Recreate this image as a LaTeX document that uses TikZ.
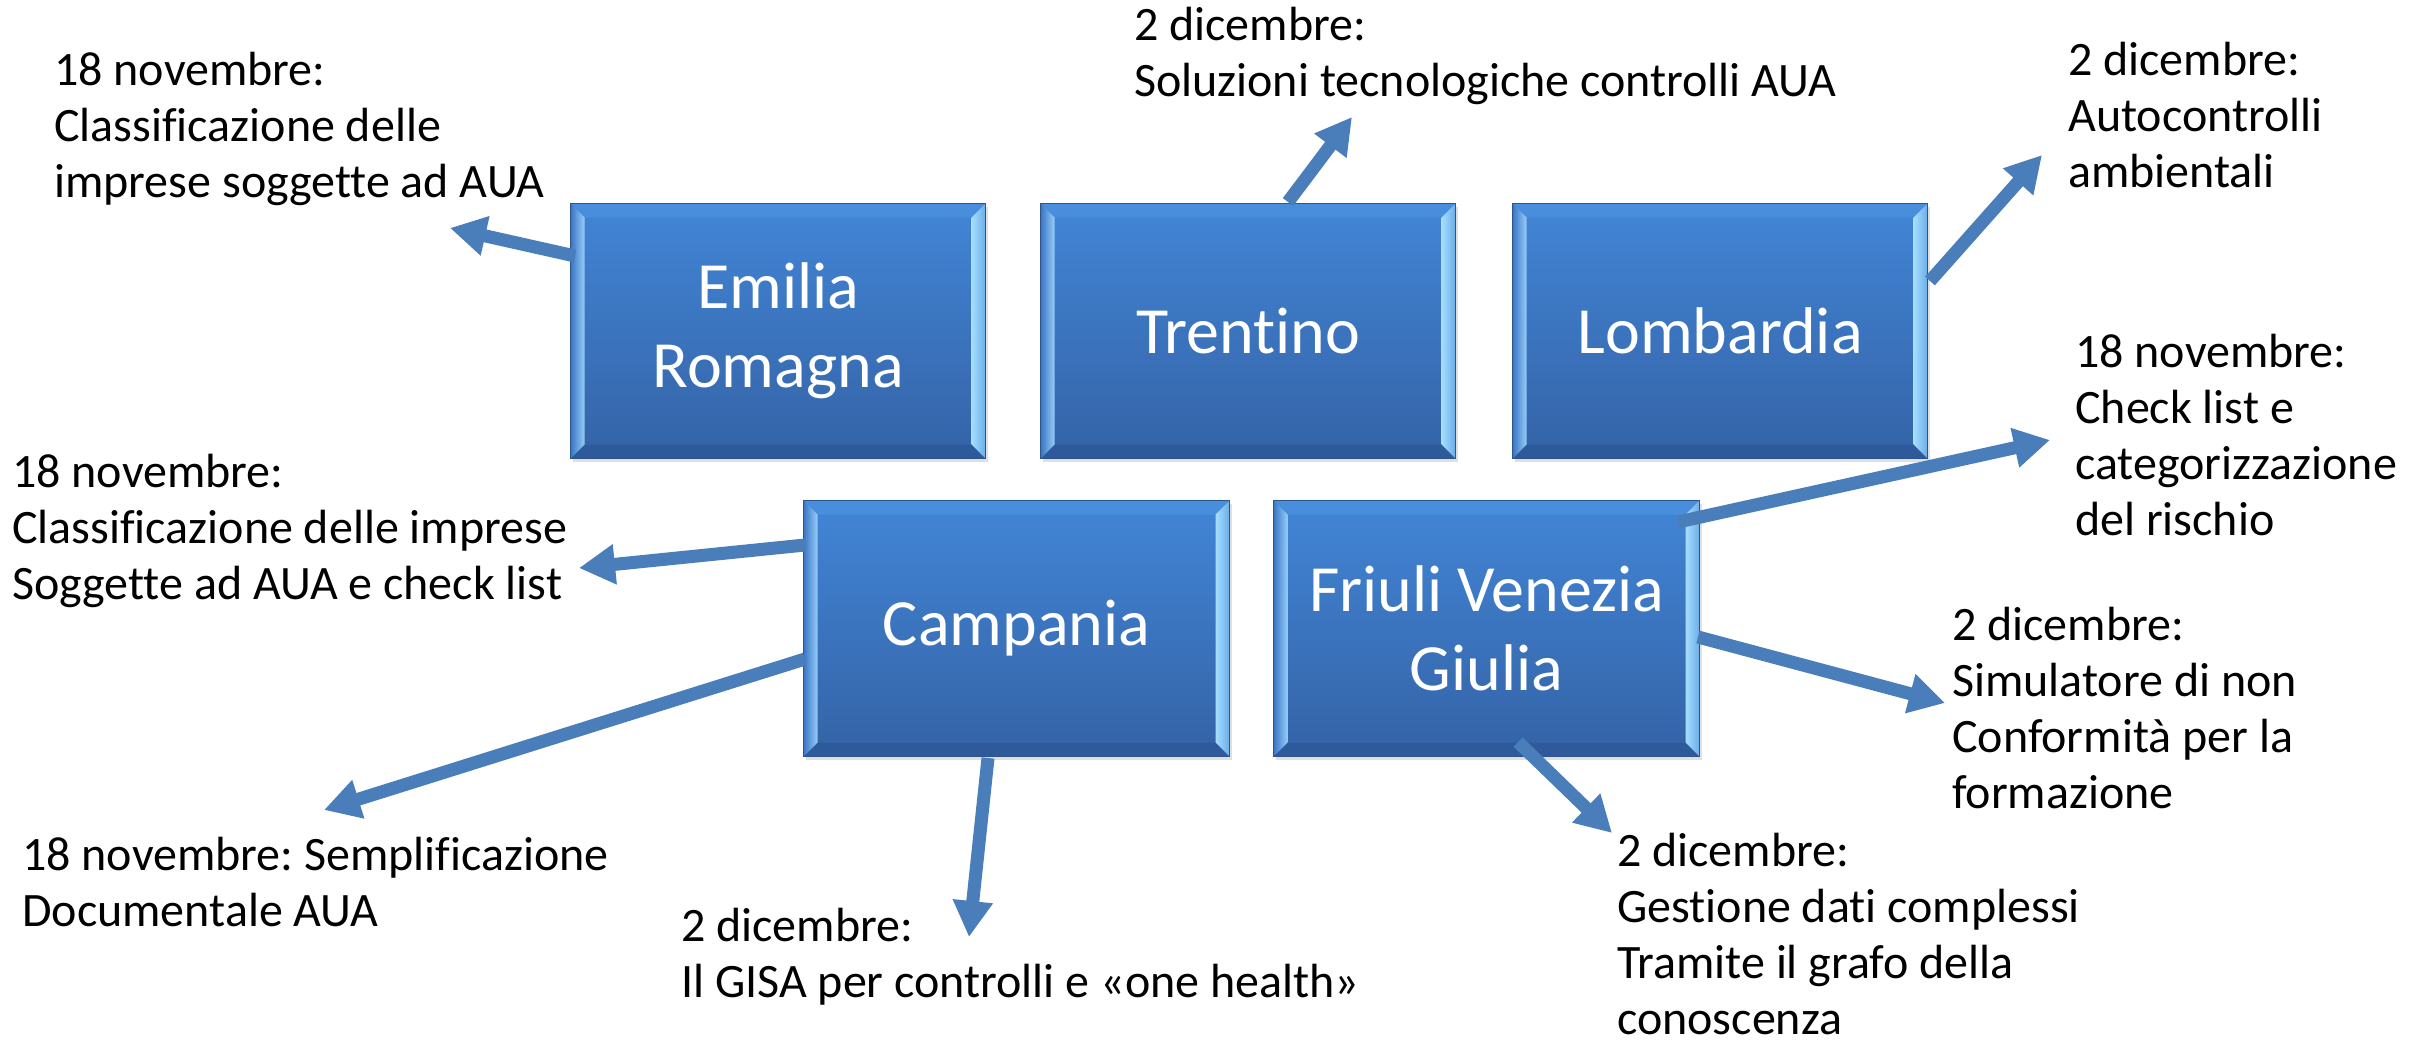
\documentclass[tikz,border=0pt]{standalone}
\usepackage{fontspec}
\setmainfont{Carlito}[Ligatures={NoCommon,NoRequired,NoContextual}]
\frenchspacing
\usetikzlibrary{arrows.meta,calc,shadows}
\definecolor{arrowblue}{RGB}{74,126,187}
\definecolor{facetop}{RGB}{66,133,214}
\definecolor{facebot}{RGB}{52,99,166}
\definecolor{boxedge}{RGB}{46,84,140}
\definecolor{bevLa}{RGB}{58,118,196}
\definecolor{bevLb}{RGB}{150,205,248}
\definecolor{bevRa}{RGB}{165,222,255}
\definecolor{bevRb}{RGB}{105,172,232}
\definecolor{bevT}{RGB}{72,142,220}
\definecolor{bevB}{RGB}{46,90,156}
\tikzset{
  bevelbox/.style={draw=boxedge, line width=1.2pt, top color=facetop, bottom color=facebot,
    text=white, font=\fontsize{66}{79}\selectfont, align=center, inner sep=0pt, anchor=north west,
    drop shadow={opacity=0.25, shadow xshift=2pt, shadow yshift=-3pt},
    path picture={
      \fill[bevT] (path picture bounding box.north west) -- (path picture bounding box.north east)
        -- ([xshift=-14pt,yshift=-14pt]path picture bounding box.north east)
        -- ([xshift=14pt,yshift=-14pt]path picture bounding box.north west) -- cycle;
      \fill[bevB] (path picture bounding box.south west) -- (path picture bounding box.south east)
        -- ([xshift=-14pt,yshift=14pt]path picture bounding box.south east)
        -- ([xshift=14pt,yshift=14pt]path picture bounding box.south west) -- cycle;
      \shade[left color=bevLa, right color=bevLb] (path picture bounding box.north west)
        -- ([xshift=14pt,yshift=-14pt]path picture bounding box.north west)
        -- ([xshift=14pt,yshift=14pt]path picture bounding box.south west)
        -- (path picture bounding box.south west) -- cycle;
      \shade[left color=bevRa, right color=bevRb] (path picture bounding box.north east)
        -- ([xshift=-14pt,yshift=-14pt]path picture bounding box.north east)
        -- ([xshift=-14pt,yshift=14pt]path picture bounding box.south east)
        -- (path picture bounding box.south east) -- cycle;
    }},
  lbl/.style={anchor=north west, inner sep=0pt, align=left, font=\fontsize{48}{56}\selectfont, text=black},
  arr/.style={draw=arrowblue, line width=13pt, -{Triangle[length=36pt,width=38pt]}},
}
\begin{document}
\begin{tikzpicture}[x=1pt,y=-1pt]
\path[use as bounding box] (0,0) rectangle (2420,1043);
\fill[white] (0,0) rectangle (2420,1043);

% boxes
\node[bevelbox, minimum width=415pt, minimum height=255pt] (er) at (570,203) {Emilia\\Romagna};
\node[bevelbox, minimum width=415pt, minimum height=255pt] (tr) at (1040,203) {Trentino};
\node[bevelbox, minimum width=415pt, minimum height=255pt] (lo) at (1512,203) {Lombardia};
\node[bevelbox, minimum width=426pt, minimum height=256pt] (ca) at (803,500) {Campania};
\node[bevelbox, minimum width=426pt, minimum height=256pt] (fv) at (1273,500) {Friuli Venezia\\Giulia};

% labels
\node[lbl] (l1) at (54,85-39.2) {\strut 18 novembre:\\Classificazione delle\\imprese soggette ad AUA};
\node[lbl] (l2) at (1134,40-39.2) {\strut 2 dicembre:\\Soluzioni tecnologiche controlli AUA};
\node[lbl] (l3) at (2068,75-39.2) {\strut 2 dicembre:\\Autocontrolli\\ambientali};
\node[lbl] (l4) at (2075,367-39.2) {\strut 18 novembre:\\Check list e\\categorizzazione\\del rischio};
\node[lbl] (l5) at (12,487-39.2) {\strut 18 novembre:\\Classificazione delle imprese\\Soggette ad AUA e check list};
\node[lbl] (l6) at (22,870-39.2) {\strut 18 novembre: Semplificazione\\Documentale AUA};
\node[lbl] (l7) at (681,941-39.2) {\strut 2 dicembre:\\Il GISA per controlli e «one health»};
\node[lbl] (l8) at (1952,640-39.2) {\strut 2 dicembre:\\Simulatore di non\\Conformità per la\\formazione};
\node[lbl] (l9) at (1617,866-39.2) {\strut 2 dicembre:\\Gestione dati complessi\\Tramite il grafo della\\conoscenza};

% arrow end points
\coordinate (s1) at (575,256);   \coordinate (e1) at (450,228);
\coordinate (s2) at (1288,202);  \coordinate (e2) at (1352,117);
\coordinate (s3) at (1930,281);  \coordinate (e3) at (2042,155);
\coordinate (s4) at (1678,522);  \coordinate (e4) at (2050,440);
\coordinate (s5) at (1698,637);  \coordinate (e5) at (1945,703);
\coordinate (s6) at (1518,742);  \coordinate (e6) at (1612,833);
\coordinate (s7) at (805,545);   \coordinate (e7) at (579,568);
\coordinate (s8) at (805,659);   \coordinate (e8) at (324,810);
\coordinate (s9) at (988,758);   \coordinate (e9) at (969,937);

\draw[arr] (s1) -- (e1);
\draw[arr] (s2) -- (e2);
\draw[arr] (s3) -- (e3);
\draw[arr] (s4) -- (e4);
\draw[arr] (s5) -- (e5);
\draw[arr] (s6) -- (e6);
\draw[arr] (s7) -- (e7);
\draw[arr] (s8) -- (e8);
\draw[arr] (s9) -- (e9);
\end{tikzpicture}
\end{document}
